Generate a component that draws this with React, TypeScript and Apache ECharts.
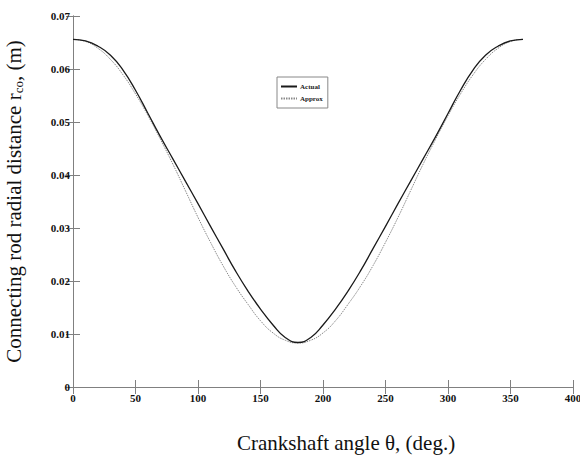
import React, { useEffect, useRef } from "react";
import * as echarts from "echarts";

const theta = [0, 10, 20, 30, 40, 50, 60, 70, 80, 90, 100, 110, 120, 130, 140, 150, 160, 170, 180,
  190, 200, 210, 220, 230, 240, 250, 260, 270, 280, 290, 300, 310, 320, 330, 340, 350, 360];

const actual = [0.0656, 0.0653, 0.0643, 0.0626, 0.0598, 0.0560, 0.0516, 0.0472, 0.0430, 0.0388,
  0.0346, 0.0303, 0.0261, 0.0219, 0.0181, 0.0147, 0.0117, 0.0093, 0.0084,
  0.0093, 0.0117, 0.0147, 0.0181, 0.0219, 0.0261, 0.0303, 0.0346, 0.0388, 0.0430, 0.0472,
  0.0516, 0.0560, 0.0598, 0.0626, 0.0643, 0.0653, 0.0656];

const approx = [0.0656, 0.0652, 0.0639, 0.0618, 0.0589, 0.0553, 0.0512, 0.0467, 0.0420, 0.0370,
  0.0320, 0.0273, 0.0229, 0.0190, 0.0156, 0.0125, 0.0102, 0.0088, 0.0083,
  0.0088, 0.0102, 0.0125, 0.0156, 0.0190, 0.0229, 0.0273, 0.0320, 0.0370, 0.0420, 0.0467,
  0.0512, 0.0553, 0.0589, 0.0618, 0.0639, 0.0652, 0.0656];

const seriesNames = ["Actual", "Approx"];

const serif = "'Liberation Serif', 'Times New Roman', serif";

export default function App() {
  const ref = useRef<HTMLDivElement>(null);
  useEffect(() => {
    if (!ref.current) return;
    const chart = echarts.init(ref.current, null, { renderer: "svg" });
    const axisLine = { show: true, lineStyle: { color: "#808080", width: 1 } };
    const tickStyle = { show: true, inside: true, length: 7, lineStyle: { color: "#808080" } };
    chart.setOption({
      animation: false,
      backgroundColor: "#ffffff",
      grid: { left: 73, right: 7, top: 16, bottom: 68, containLabel: false, outerBoundsMode: "none" },
      legend: {
        orient: "vertical",
        left: 277,
        top: 77,
        itemWidth: 16,
        itemHeight: 6,
        itemGap: 5,
        padding: [6, 5, 6, 3],
        borderColor: "#888888",
        borderWidth: 1,
        backgroundColor: "#ffffff",
        itemStyle: { opacity: 0, borderWidth: 0 },
        textStyle: { fontFamily: serif, fontSize: 7, fontWeight: "bold", color: "#222", padding: [0, 0, 0, -2] },
        data: seriesNames,
      },
      xAxis: [
        {
          type: "value",
          min: 0,
          max: 400,
          interval: 50,
          position: "bottom",
          axisLine,
          axisTick: tickStyle,
          splitLine: { show: false },
          axisLabel: { fontFamily: serif, fontSize: 11, fontWeight: "bold", color: "#111", margin: 5 },
          name: "Crankshaft angle θ, (deg.)",
          nameLocation: "middle",
          nameGap: 45,
          nameTextStyle: { fontFamily: serif, fontSize: 21, color: "#111", padding: [0, 0, 0, 46] },
        },
        {
          type: "value",
          min: 0,
          max: 400,
          interval: 50,
          position: "top",
          axisLine,
          axisTick: tickStyle,
          axisLabel: { show: false },
          splitLine: { show: false },
        },
      ],
      yAxis: [
        {
          type: "value",
          min: 0,
          max: 0.07,
          interval: 0.01,
          position: "left",
          axisLine,
          axisTick: tickStyle,
          splitLine: { show: false },
          axisLabel: {
            fontFamily: serif,
            fontSize: 11,
            fontWeight: "bold",
            color: "#111",
            margin: 3,
            formatter: (v: number) => (v === 0 ? "0" : v.toFixed(2)),
          },
          name: "{a|Connecting rod radial distance r}{s|co}{a|, (m)}",
          nameLocation: "middle",
          nameGap: 48,
          nameRotate: 90,
          nameTextStyle: {
            fontFamily: serif,
            fontSize: 21,
            color: "#111",
            rich: {
              a: { fontFamily: serif, fontSize: 21, color: "#111" },
              s: { fontFamily: serif, fontSize: 13, color: "#111", verticalAlign: "bottom", padding: [9, 0, 0, 0] },
            },
          },
        },
        {
          type: "value",
          min: 0,
          max: 0.07,
          interval: 0.01,
          position: "right",
          axisLine,
          axisTick: tickStyle,
          axisLabel: { show: false },
          splitLine: { show: false },
        },
      ],
      series: [
        {
          name: seriesNames[0],
          type: "line",
          symbol: "none",
          smooth: true,
          data: theta.map((t, i) => [t, actual[i]]),
          lineStyle: { color: "#1a1a1a", width: 1.3 },
          itemStyle: { color: "#1a1a1a" },
          z: 3,
        },
        {
          name: seriesNames[1],
          type: "line",
          symbol: "none",
          smooth: true,
          data: theta.map((t, i) => [t, approx[i]]),
          lineStyle: { color: "#8a8a8a", width: 1, type: [1.5, 1] },
          itemStyle: { color: "#8a8a8a" },
          z: 2,
        },
      ],
    });
    return () => chart.dispose();
  }, []);
  return <div ref={ref} style={{ width: 580, height: 455, position: "absolute", left: 0, top: 0 }} />;
}
